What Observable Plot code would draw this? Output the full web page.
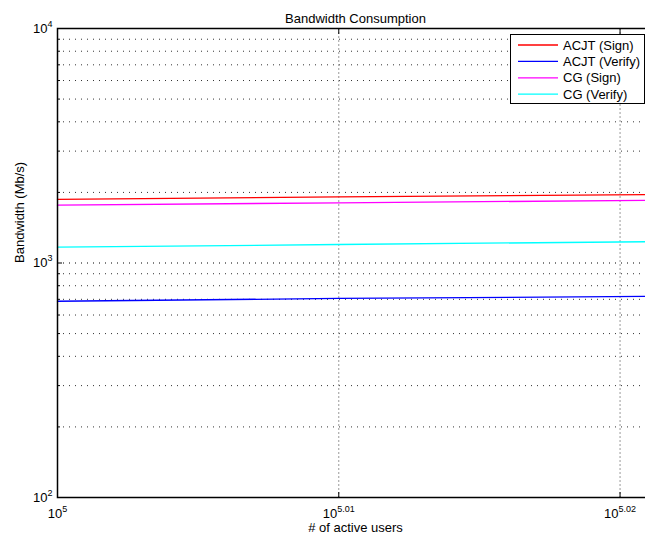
<!DOCTYPE html>
<html><head><meta charset="utf-8">
<script src="https://cdn.jsdelivr.net/npm/d3@7"></script>
<script src="https://cdn.jsdelivr.net/npm/@observablehq/plot@0.6"></script>
<style>
html,body{margin:0;padding:0;background:#fff;overflow:hidden;}
#wrap{position:relative;width:645px;height:542px;overflow:hidden;font-family:"Liberation Sans",Arial,sans-serif;}
#wrap > svg{max-width:none !important;width:653px;height:542px;}
#legend{position:absolute;left:510px;top:34px;}
</style></head><body><div id="wrap"></div>
<script>
// ---- data ----
const users = [100000, 102329, 105000];
const seriesNames = ["ACJT (Sign)", "ACJT (Verify)", "CG (Sign)", "CG (Verify)"];
const seriesColors = ["#ff0000", "#0000ff", "#ff00ff", "#00ffff"];
const acjtSign = [1866, 1915, 1960];
const acjtVerify = [687, 706, 721];
const cgSign = [1764, 1806, 1850];
const cgVerify = [1168, 1199, 1233];
const xTickLabels = ["5", "5.01", "5.02"];
const yTickLabels = ["2", "3", "4"];
const yMinorMult = [2, 3, 4, 5, 6, 7, 8, 9];
const titleText = "Bandwidth Consumption";
const xLabelText = "# of active users";
const yLabelText = "Bandwidth (Mb/s)";

const xTicks = xTickLabels.map(e => 10 ** +e);
const yTicks = yTickLabels.map(e => 10 ** +e);
const yMinor = [100, 1000].flatMap(b => yMinorMult.map(m => m * b));
const allSeries = [acjtSign, acjtVerify, cgSign, cgVerify];
const rows = allSeries.flatMap((vals, s) => vals.map((v, i) => ({series: seriesNames[s], x: users[i], y: v})));

const font = "'Liberation Sans', Arial, sans-serif";
const chart = Plot.plot({
  width: 653, height: 542,
  marginLeft: 57, marginRight: 0, marginTop: 28, marginBottom: 45,
  style: {fontFamily: font, fontSize: "13px", background: "#fff", color: "#000", overflow: "visible", maxWidth: "none"},
  x: {type: "log", domain: [100000, 105000]},
  y: {type: "log", domain: [100, 10000]},
  color: {domain: seriesNames, range: seriesColors},
  marks: [
    Plot.ruleY(yMinor, {stroke: "#333", strokeDasharray: "1,5", strokeWidth: 1}),
    Plot.ruleY(yTicks, {stroke: "#000", strokeDasharray: "1,5", strokeWidth: 1}),
    Plot.ruleX(xTicks.slice(1), {stroke: "#999", strokeDasharray: "2,2", strokeWidth: 1}),
    Plot.line(rows, {x: "x", y: "y", z: "series", stroke: "series", strokeWidth: 1.3}),
    Plot.axisY({ticks: yTicks, tickSize: -5, tickPadding: 10, tickFormat: d => "10^" + yTickLabels[yTicks.indexOf(d)], label: null, fontSize: 13}),
    Plot.axisY({ticks: yMinor, tickSize: -3, tickFormat: () => "", label: null}),
    Plot.axisX({ticks: xTicks, tickSize: -5, tickPadding: 16, tickFormat: d => "10^" + xTickLabels[xTicks.indexOf(d)], label: null, fontSize: 13}),
    Plot.axisX({anchor: "top", ticks: xTicks, tickSize: -5, tickFormat: () => "", label: null}),
    Plot.frame({stroke: "#000", strokeWidth: 1.5}),
    Plot.text([titleText], {frameAnchor: "top", dy: -15, text: d => d, fontSize: 13}),
    Plot.text([xLabelText], {frameAnchor: "bottom", dy: 34, text: d => d, fontSize: 13}),
    Plot.text([yLabelText], {frameAnchor: "left", dx: -38, rotate: -90, text: d => d, fontSize: 13})
  ]
});

// superscript tick labels
d3.select(chart).selectAll("text").each(function() {
  const t = this.textContent;
  if (!t.startsWith("10^")) return;
  const exp = t.slice(3);
  const sel = d3.select(this);
  sel.text(null);
  sel.append("tspan").text("10");
  sel.append("tspan").attr("dy", "-6").attr("font-size", 9).text(exp);
});

const wrap = document.getElementById("wrap");
wrap.appendChild(chart);

// legend overlay
const lw = 135, lh = 70;
const leg = d3.select(wrap).append("svg").attr("id", "legend").attr("width", lw).attr("height", lh)
  .style("font-family", font).style("font-size", "13px");
leg.append("rect").attr("x", 0.5).attr("y", 0.5).attr("width", lw - 1).attr("height", lh - 1)
  .attr("fill", "#fff").attr("stroke", "#000").attr("stroke-width", 1);
seriesNames.forEach((name, i) => {
  const cy = 11 + i * 16.4;
  leg.append("line").attr("x1", 8).attr("x2", 48).attr("y1", cy).attr("y2", cy)
    .attr("stroke", seriesColors[i]).attr("stroke-width", 1.3);
  leg.append("text").attr("x", 53).attr("y", cy).attr("dy", "0.35em").text(name);
});
</script></body></html>
